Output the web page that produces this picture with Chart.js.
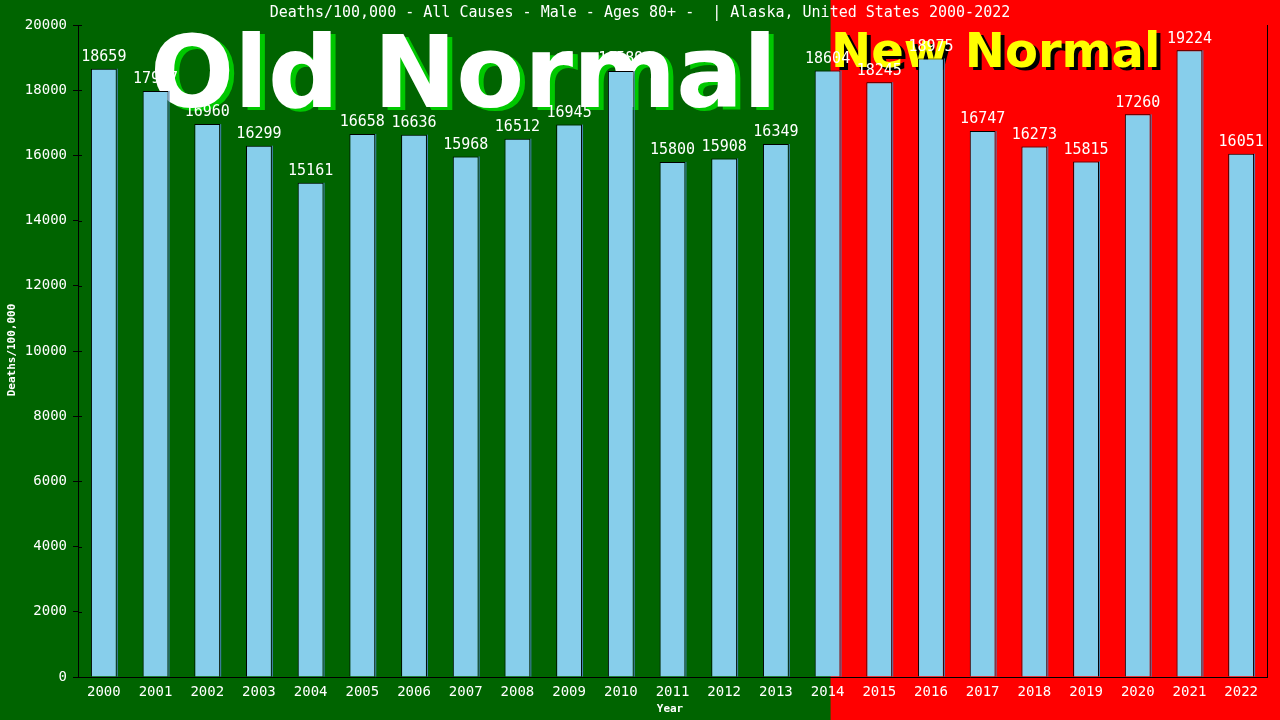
<!DOCTYPE html>
<html>
<head>
<meta charset="utf-8">
<script src="https://cdn.jsdelivr.net/npm/chart.js@4/dist/chart.umd.min.js"></script>
<style>
  html, body { margin: 0; padding: 0; background: #006400; }
  canvas { display: block; }
</style>
</head>
<body>
<canvas id="deathChart" width="1280" height="720"></canvas>
<script>
// Deaths/100,000 - All Causes - Male - Ages 80+ - Alaska
const years = ['2000','2001','2002','2003','2004','2005','2006','2007','2008','2009','2010','2011',
               '2012','2013','2014','2015','2016','2017','2018','2019','2020','2021','2022']
const deathRates = [18659, 17977, 16960, 16299, 15161, 16658, 16636, 15968, 16512, 16945, 18589, 15800,
                    15908, 16349, 18604, 18245, 18975, 16747, 16273, 15815, 17260, 19224, 16051]
const yTicks = [0, 2000, 4000, 6000, 8000, 10000, 12000, 14000, 16000, 18000, 20000]

const titleText = 'Deaths/100,000 - All Causes - Male - Ages 80+ -  | Alaska, United States 2000-2022'
const splitYear = '2014'   // old normal / new normal boundary

const mono = '"DejaVu Sans Mono", "Liberation Mono", monospace'

// backgrounds + big captions (under the bars)
const backdrop = {
    id: 'backdrop',
    beforeDraw(chart) {
        const ctx = chart.ctx
        const xs = chart.scales.x
        const splitX = xs.getPixelForValue(years.indexOf(splitYear)) + 3
        ctx.save()
        ctx.fillStyle = '#006400'
        ctx.fillRect(0, 0, chart.width, chart.height)
        ctx.fillStyle = '#ff0000'
        ctx.fillRect(splitX, 0, chart.width - splitX, chart.height)

        // title
        ctx.fillStyle = '#ffffff'
        ctx.font = '15px ' + mono
        ctx.textAlign = 'center'
        ctx.textBaseline = 'middle'
        ctx.fillText(titleText, 640, 13)

        // axis titles
        ctx.font = 'bold 11px ' + mono
        ctx.fillText('Year', 670, 709)
        ctx.translate(12, 350)
        ctx.rotate(-Math.PI / 2)
        ctx.fillText('Deaths/100,000', 0, 0)
        ctx.restore()
    },
    beforeDatasetsDraw(chart) {
        const ctx = chart.ctx
        ctx.save()
        ctx.textAlign = 'left'
        ctx.textBaseline = 'alphabetic'
        ctx.font = 'bold 99px "DejaVu Sans", sans-serif'
        ctx.fillStyle = '#00c800'
        ctx.fillText('Old Normal', 155, 110)
        ctx.fillStyle = '#ffffff'
        ctx.fillText('Old Normal', 150, 107)

        ctx.font = 'bold 48px "DejaVu Sans", sans-serif'
        ctx.fillStyle = '#000000'
        ctx.fillText('New Normal', 835, 70)
        ctx.fillStyle = '#ffff00'
        ctx.fillText('New Normal', 831, 67)
        ctx.restore()
    }
}

// value labels, bar edge shading, y tick stubs and the right frame line
const barLabels = {
    id: 'barLabels',
    afterDatasetsDraw(chart) {
        const ctx = chart.ctx
        const area = chart.chartArea
        const ys = chart.scales.y
        const meta = chart.getDatasetMeta(0)
        ctx.save()
        meta.data.forEach((bar, i) => {
            const w = bar.width
            ctx.fillStyle = '#4682b4'
            ctx.fillRect(bar.x + w / 2, bar.y, 1, bar.base - bar.y)
            ctx.fillStyle = '#ffffff'
            ctx.font = '15px ' + mono
            ctx.textAlign = 'center'
            ctx.textBaseline = 'bottom'
            ctx.fillText(deathRates[i], bar.x, bar.y - 4)
        })
        ctx.strokeStyle = '#000000'
        ctx.lineWidth = 1
        ctx.beginPath()
        ctx.moveTo(area.right + 0.5, area.top)
        ctx.lineTo(area.right + 0.5, area.bottom)
        yTicks.forEach(v => {
            const y = Math.round(ys.getPixelForValue(v)) + 0.5
            ctx.moveTo(area.left, y)
            ctx.lineTo(area.left + 4, y)
        })
        ctx.stroke()
        ctx.restore()
    }
}

const ctx = document.getElementById('deathChart')
const deathChart = new Chart(ctx, {
    type: 'bar',
    data: {
        labels: years,
        datasets: [{
            label: 'Deaths/100,000',
            data: deathRates,
            backgroundColor: '#87ceeb',
            borderColor: '#000000',
            borderWidth: 1,
            borderSkipped: 'bottom',
            categoryPercentage: 1.0,
            barPercentage: 0.5
        }]
    },
    options: {
        responsive: false,
        animation: false,
        devicePixelRatio: 1,
        layout: { padding: { top: 25, right: 13, left: 0, bottom: 0 } },
        plugins: {
            legend: { display: false },
            tooltip: { enabled: false },
            title: { display: false }
        },
        scales: {
            x: {
                grid: { display: true, drawOnChartArea: false, drawTicks: false },
                border: { display: true, color: '#000000', width: 1 },
                ticks: { color: '#ffffff', font: { family: mono, size: 14 }, padding: 7, maxRotation: 0, autoSkip: false },
                afterFit(scale) { scale.height = 43 }
            },
            y: {
                min: 0,
                max: 20000,
                afterBuildTicks(scale) { scale.ticks = yTicks.map(v => ({ value: v })) },
                grid: { display: true, drawOnChartArea: false, drawTicks: true, tickLength: 5, color: '#000000' },
                border: { display: true, color: '#000000', width: 1 },
                ticks: { color: '#ffffff', font: { family: mono, size: 14 }, padding: 6, callback: v => String(v) },
                afterFit(scale) { scale.width = 78 }
            }
        }
    },
    plugins: [backdrop, barLabels]
})
</script>
</body>
</html>
